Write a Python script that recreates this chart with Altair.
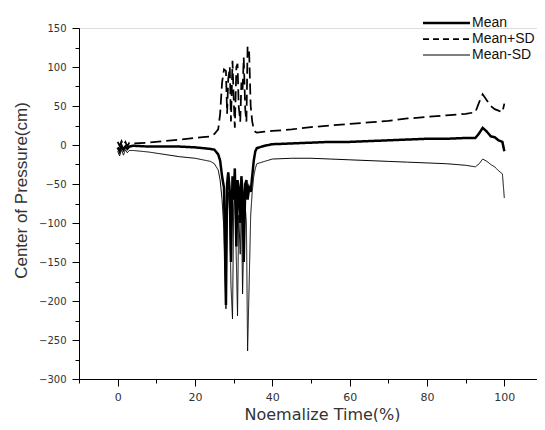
import altair as alt
import pandas as pd

time = [0, 0.5, 1, 1.5, 2, 2.5, 3, 4, 8, 12, 16, 20, 22, 24, 25, 26,
        26.5, 27, 27.5, 28, 28.3, 28.6, 29, 29.3, 29.7, 30,
        30.3, 30.7, 31, 31.3, 31.7, 32, 32.3, 32.6, 33, 33.3,
        33.6, 34, 34.4, 34.8, 35.2, 35.6, 36,
        38, 40, 45, 50, 55, 60, 65, 70, 75, 80,
        85, 90, 92.5, 93.5, 94.4, 95.5, 96.5, 97.5, 98.5, 99.5, 100]

mean = [-3, -8, -1, -6, -2, -5, -2, -1, -2, -2, -2, -3, -4, -5, -6, -12,
        -20, -40, -55, -205, -50, -35, -60, -150, -40, -70,
        -30, -130, -45, -55, -100, -40, -60, -150, -50, -45,
        -70, -55, -60, -40, -20, -8, -4,
        -1, 1, 2, 3, 4, 4, 5, 6, 7, 8,
        8, 9, 9, 15, 22, 17, 11, 10, 6, 4, -8]

mean_plus_sd = [4, -1, 5, 0, 4, -2, 3, 2, 3, 5, 7, 9, 10, 11, 14, 20,
                40, 80, 97, 95, 40, 85, 100, 30, 108, 60,
                22, 100, 104, 50, 30, 80, 70, 112, 45, 30,
                126, 120, 50, 30, 20, 17, 16,
                17, 18, 20, 23, 25, 27, 29, 31, 34, 36,
                38, 40, 42, 55, 65, 57, 50, 46, 44, 42, 53]

mean_minus_sd = [-8, -14, -6, -13, -6, -10, -7, -7, -9, -12, -15, -17, -19, -21, -24, -32,
                 -45, -70, -110, -210, -80, -60, -90, -180, -223, -80,
                 -60, -150, -219, -90, -140, -70, -191, -120, -80, -100,
                 -264, -180, -90, -60, -40, -30, -24,
                 -21, -18, -17, -17, -18, -19, -20, -21, -22, -23,
                 -24, -26, -28, -24, -18, -21, -25, -28, -33, -37, -68]

series_names = ["Mean", "Mean+SD", "Mean-SD"]
x_ticks = list(range(-10, 111, 10))
y_ticks = list(range(-300, 151, 25))

rows = []
for name, vals in zip(series_names, [mean, mean_plus_sd, mean_minus_sd]):
    for t, v in zip(time, vals):
        rows.append({"series": name, "time": t, "value": v})
df = pd.DataFrame(rows)

FONT = "Liberation Sans"
TICKFONT = "DejaVu Sans"

lines = alt.Chart(df).mark_line(color="black", strokeJoin="miter").encode(
    x=alt.X("time:Q",
            scale=alt.Scale(domain=[-10, 110], nice=False, zero=False, range=[0, 464]),
            axis=alt.Axis(values=x_ticks, title="Noemalize Time(%)",
                          labelExpr="datum.value % 20 === 0 && datum.value >= 0 && datum.value <= 100 ? datum.label : ''",
                          grid=False, domainColor="black", tickColor="black",
                          tickSize={"condition": {"test": "datum.value % 20 === 0", "value": 7}, "value": 4},
                          labelFont=TICKFONT, labelFontSize=11, labelColor="#333",
                          labelPadding=5, titleFont=TICKFONT, titleFontSize=16,
                          titleFontWeight="normal", titleColor="#333", titlePadding=4,
                          titleX=243)),
    y=alt.Y("value:Q",
            scale=alt.Scale(domain=[-300, 150], nice=False, zero=False),
            axis=alt.Axis(values=y_ticks, title="Center of Pressure(cm)",
                          labelExpr="datum.value % 50 === 0 ? datum.label : ''",
                          grid=False, domainColor="black", tickColor="black",
                          tickSize={"condition": {"test": "datum.value % 50 === 0", "value": 7}, "value": 4},
                          labelFont=TICKFONT, labelFontSize=10, labelColor="#333",
                          labelPadding=6, titleFont=FONT, titleFontSize=17,
                          titleFontWeight="normal", titleColor="#333", titlePadding=8,
                          titleY=162)),
    detail="series:N",
    strokeDash=alt.StrokeDash("series:N",
                              scale=alt.Scale(domain=series_names, range=[[1, 0], [11, 5], [1, 0]]),
                              legend=None),
    strokeWidth=alt.StrokeWidth("series:N",
                                scale=alt.Scale(domain=series_names, range=[2.5, 1, 1]),
                                legend=None),
)

# manual legend
leg_df = pd.DataFrame({"series": series_names,
                       "ypos": [-5, 11, 27],
                       "dash": ["solid", "dash", "solid"]})

leg_lines = alt.Chart(leg_df).mark_rule(color="black").encode(
    x=alt.value(344), x2=alt.value(391),
    y=alt.Y("ypos:Q", scale=None),
    strokeDash=alt.StrokeDash("dash:N",
                              scale=alt.Scale(domain=["solid", "dash"], range=[[1, 0], [6, 4]]),
                              legend=None),
    strokeWidth=alt.StrokeWidth("series:N",
                                scale=alt.Scale(domain=series_names, range=[2.5, 1, 1]),
                                legend=None),
)

leg_text = alt.Chart(leg_df).mark_text(align="left", baseline="middle", font=FONT,
                                       fontSize=14, color="#111").encode(
    x=alt.value(393),
    y=alt.Y("ypos:Q", scale=None),
    text="series:N",
)

chart = alt.layer(lines, leg_lines, leg_text).resolve_scale(
    strokeDash="independent", strokeWidth="independent"
).properties(
    width=458, height=351,
    autosize=alt.AutoSizeParams(type="none"),
    padding={"left": 71, "top": 20, "right": 0, "bottom": 43},
).configure_view(stroke=None).configure(background="white")

chart.save("out.html", embed_options={"renderer": "svg", "actions": False})
